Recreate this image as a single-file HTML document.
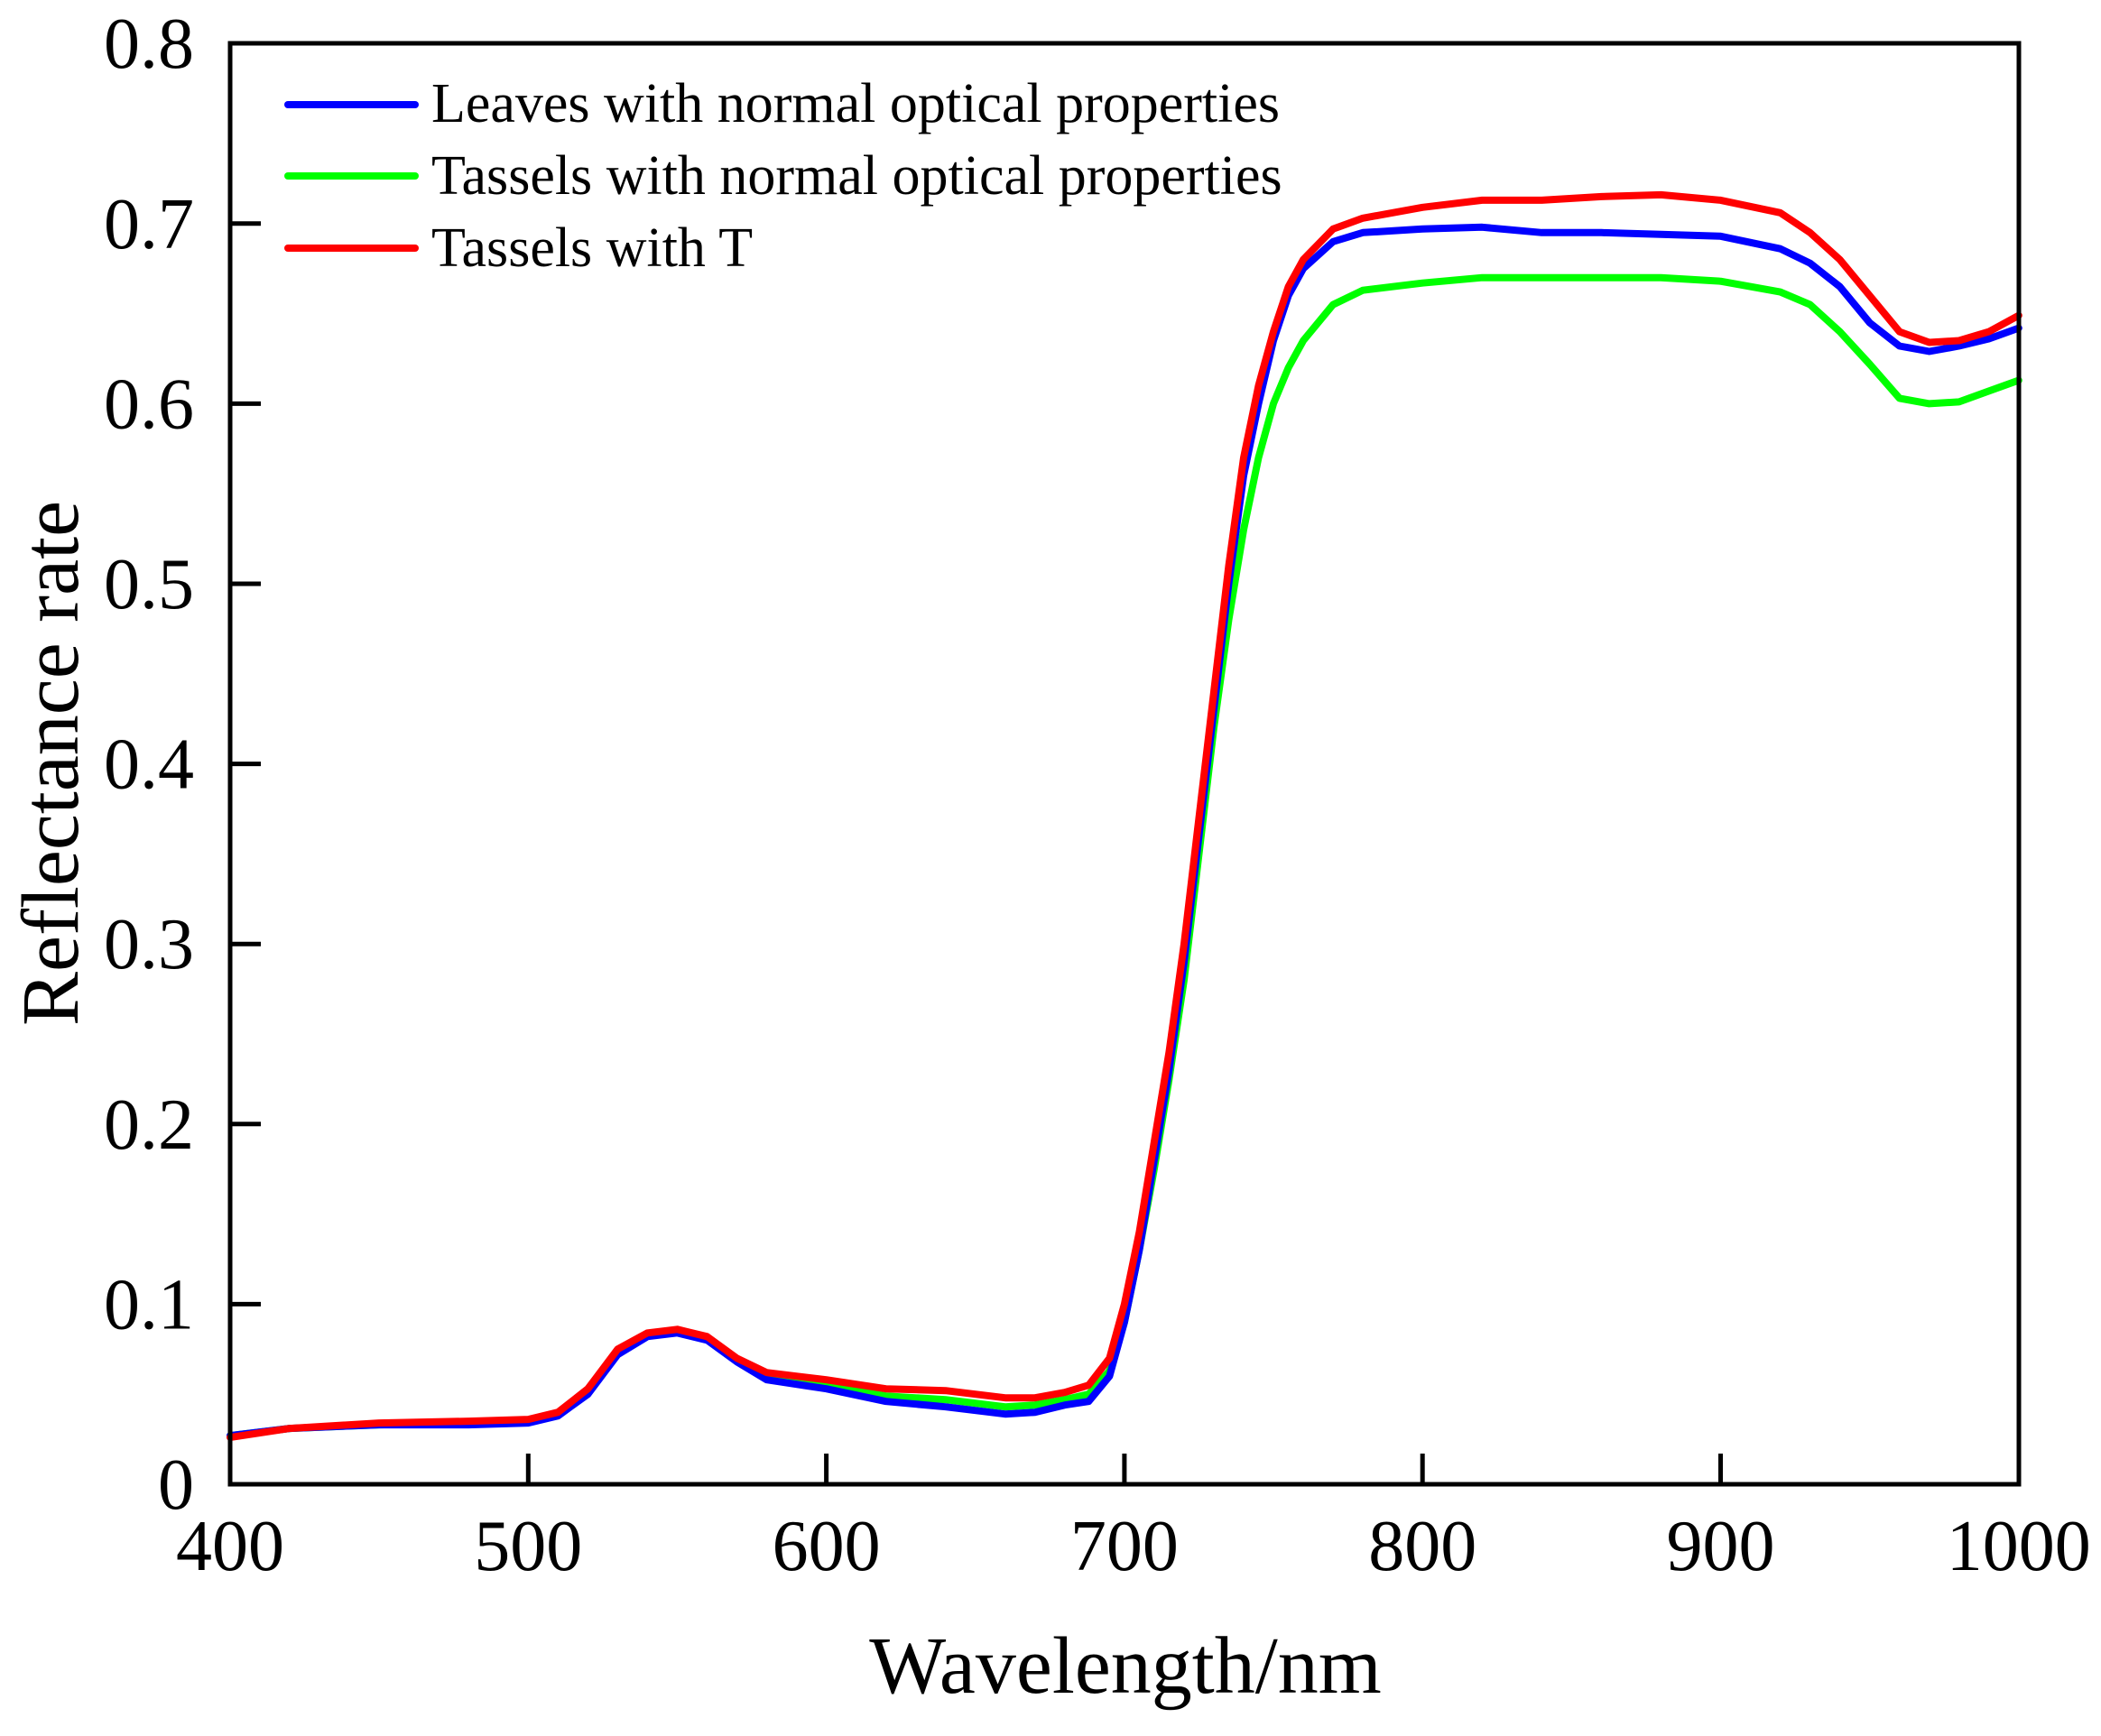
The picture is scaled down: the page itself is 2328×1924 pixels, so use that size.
<!DOCTYPE html>
<html><head><meta charset="utf-8">
<style>
html,body{margin:0;padding:0;background:#fff;}
svg{display:block;}
text{font-family:"Liberation Serif",serif;fill:#000;}
</style></head>
<body>
<svg id="s" width="2328" height="1924" viewBox="0 0 2328 1924" xmlns="http://www.w3.org/2000/svg">
<rect width="2328" height="1924" fill="#fff"/>
<g id="curves" fill="none" stroke-width="8" stroke-linejoin="round" stroke-linecap="round"></g>
<rect x="255" y="48" width="1982" height="1597" fill="none" stroke="#000" stroke-width="5"/>
<g stroke="#000" stroke-width="5" id="ticks"></g>
<g font-size="80" text-anchor="end" id="ylab"></g>
<g font-size="80" text-anchor="middle" id="xlab"></g>
<text x="1247" y="1876" font-size="90" text-anchor="middle">Wavelength/nm</text>
<text transform="translate(86,846) rotate(-90)" font-size="90" text-anchor="middle">Reflectance rate</text>
<g stroke-width="8" stroke-linecap="round">
<line x1="319" y1="116" x2="460" y2="116" stroke="#0000ff"/>
<line x1="319" y1="195" x2="460" y2="195" stroke="#00ff00"/>
<line x1="319" y1="275" x2="460" y2="275" stroke="#ff0000"/>
</g>
<g font-size="62">
<text x="478" y="135">Leaves with normal optical properties</text>
<text x="478" y="215">Tassels with normal optical properties</text>
<text x="478" y="295">Tassels with T</text>
</g>
</svg>
<script>
var NS="http://www.w3.org/2000/svg";
function X(l){return 255+(l-400)*3.303;}
function Y(v){return 1645-v*1996;}
var t=document.getElementById('ticks'),yl=document.getElementById('ylab'),xl=document.getElementById('xlab');
function el(p,tag,a,txt){var e=document.createElementNS(NS,tag);for(var k in a)e.setAttribute(k,a[k]);if(txt!=null)e.textContent=txt;p.appendChild(e);}
for(var i=1;i<=7;i++){el(t,'line',{x1:255,x2:289,y1:Y(i/10),y2:Y(i/10)});}
for(var l=500;l<=900;l+=100){el(t,'line',{x1:X(l),x2:X(l),y1:1645,y2:1611});}
var yt=['0','0.1','0.2','0.3','0.4','0.5','0.6','0.7','0.8'];
for(var i=0;i<=8;i++){el(yl,'text',{x:215,y:Y(i/10)+27},yt[i]);}
for(var l=400;l<=1000;l+=100){el(xl,'text',{x:X(l),y:1740},String(l));}
var blue=[[400,.027],[420,.031],[450,.033],[480,.033],[500,.034],[510,.038],[520,.05],[530,.072],[540,.082],[550,.084],[560,.08],[570,.068],[580,.058],[600,.053],[620,.046],[640,.043],[660,.039],[670,.04],[680,.044],[688,.046],[695,.06],[700,.09],[705,.13],[710,.18],[715,.23],[720,.29],[725,.36],[730,.43],[735,.5],[740,.56],[745,.6],[750,.635],[755,.66],[760,.675],[770,.69],[780,.695],[800,.697],[820,.698],[840,.695],[860,.695],[880,.694],[900,.693],[920,.686],[930,.678],[940,.665],[950,.645],[960,.632],[970,.629],[980,.632],[990,.636],[1000,.642]];
var green=[[400,.027],[420,.031],[450,.033],[480,.034],[500,.035],[510,.039],[520,.051],[530,.073],[540,.083],[550,.085],[560,.081],[570,.069],[580,.06],[600,.055],[620,.049],[640,.047],[660,.043],[670,.044],[680,.047],[688,.05],[695,.063],[700,.09],[705,.13],[710,.175],[715,.225],[720,.28],[725,.35],[730,.42],[735,.48],[740,.53],[745,.57],[750,.6],[755,.62],[760,.635],[770,.655],[780,.663],[800,.667],[820,.67],[850,.67],[880,.67],[900,.668],[920,.662],[930,.655],[940,.64],[950,.622],[960,.603],[970,.6],[980,.601],[990,.607],[1000,.613]];
var red=[[400,.026],[420,.031],[450,.034],[480,.035],[500,.036],[510,.04],[520,.053],[530,.075],[540,.084],[550,.086],[560,.082],[570,.07],[580,.062],[600,.058],[620,.053],[640,.052],[660,.048],[670,.048],[680,.051],[688,.055],[695,.07],[700,.1],[705,.14],[710,.19],[715,.24],[720,.3],[725,.37],[730,.44],[735,.51],[740,.57],[745,.61],[750,.64],[755,.665],[760,.68],[770,.697],[780,.703],[800,.709],[820,.713],[840,.713],[860,.715],[880,.716],[900,.713],[920,.706],[930,.695],[940,.68],[950,.66],[960,.64],[970,.634],[980,.635],[990,.64],[1000,.649]];
var g=document.getElementById('curves');
function path(d,c){var s='';d.forEach(function(p,i){s+=(i?'L':'M')+X(p[0]).toFixed(1)+','+Y(p[1]).toFixed(1);});el(g,'path',{d:s,stroke:c});}
path(green,'#00ff00');path(blue,'#0000ff');path(red,'#ff0000');
</script>
</body></html>
